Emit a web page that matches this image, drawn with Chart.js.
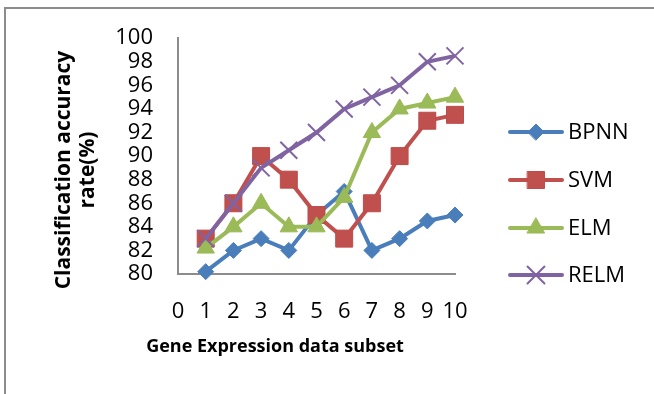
<!DOCTYPE html>
<html>
<head>
<meta charset="utf-8">
<script src="https://cdn.jsdelivr.net/npm/chart.js@4.4.0/dist/chart.umd.min.js"></script>
<style>
  html, body { margin: 0; padding: 0; background: #fff; }
  #wrap { width: 654px; height: 394px; }
</style>
</head>
<body>
<div id="wrap"><canvas id="acc_chart" width="654" height="394"></canvas></div>
<script>
// data subsets along the x-axis
var subsets = [1, 2, 3, 4, 5, 6, 7, 8, 9, 10];

// classification accuracy (%) per method
var bpnn = [80.2, 82, 83, 82, 85, 87, 82, 83, 84.5, 85];
var svm  = [83, 86, 90, 88, 85, 83, 86, 90, 93, 93.5];
var elm  = [82.2, 84, 86, 84, 84, 86.5, 92, 94, 94.5, 95];
var relm = [83, 86, 89, 90.5, 92, 94, 95, 96, 98, 98.5];

var xTitle = "Gene Expression data subset";
var yTitle = ["Classification accuracy", "rate(%)"];

function pts(vals) {
    return vals.map(function (v, i) { return { x: subsets[i], y: v }; });
}

var FONT = "'Open Sans', 'Noto Sans', sans-serif";

// frame, axis titles and a line+marker legend like the Excel one
var decor = {
    id: 'decor',
    beforeDraw: function (chart) {
        var c = chart.ctx;
        c.save();
        c.strokeStyle = '#8c8c8c';
        c.lineWidth = 2;
        c.beginPath();
        c.moveTo(5, 400);
        c.lineTo(5, 8);
        c.lineTo(660, 8);
        c.stroke();
        c.restore();
    },
    afterDraw: function (chart) {
        var c = chart.ctx;
        c.save();
        c.fillStyle = '#000';
        c.textAlign = 'center';
        c.textBaseline = 'middle';
        c.font = 'bold 18px ' + FONT;
        c.fillText(xTitle, 275, 347);
        c.save();
        c.font = 'bold 21px ' + FONT;
        c.translate(64, 170);
        c.rotate(-Math.PI / 2);
        yTitle.forEach(function (t, i) { c.fillText(t, 0, i * 24); });
        c.restore();

        var ys = [132, 180, 228, 275];
        chart.data.datasets.forEach(function (ds, i) {
            var y = ys[i];
            c.strokeStyle = ds.borderColor;
            c.lineWidth = 4;
            c.lineCap = 'round';
            c.beginPath();
            c.moveTo(510, y);
            c.lineTo(562, y);
            c.stroke();
            c.fillStyle = ds.pointBackgroundColor;
            c.strokeStyle = ds.pointBorderColor;
            c.lineWidth = ds.pointBorderWidth;
            Chart.helpers.drawPoint(c, {
                pointStyle: ds.pointStyle,
                radius: ds.pointRadius,
                borderWidth: ds.pointBorderWidth
            }, 536, y);
            c.fillStyle = '#000';
            c.font = '22px ' + FONT;
            c.textAlign = 'left';
            c.fillText(ds.label, 568, y + 1);
        });
        c.restore();
    }
};

var ctx = document.getElementById("acc_chart");
var myChart = new Chart(ctx, {
    type: 'line',
    data: {
        datasets: [
            {
                data: pts(bpnn),
                label: "BPNN",
                borderColor: "#4a7ebb",
                pointBackgroundColor: "#4a7ebb",
                pointBorderColor: "#4a7ebb",
                pointBorderWidth: 1,
                pointStyle: 'rectRot',
                pointRadius: 8,
                order: 4
            },
            {
                data: pts(svm),
                label: "SVM",
                borderColor: "#c0504d",
                pointBackgroundColor: "#c0504d",
                pointBorderColor: "#be4b48",
                pointBorderWidth: 1,
                pointStyle: 'rect',
                pointRadius: 12,
                order: 3
            },
            {
                data: pts(elm),
                label: "ELM",
                borderColor: "#9bbb59",
                pointBackgroundColor: "#9bbb59",
                pointBorderColor: "#98b954",
                pointBorderWidth: 1,
                pointStyle: 'triangle',
                pointRadius: 10,
                order: 2
            },
            {
                data: pts(relm),
                label: "RELM",
                borderColor: "#8064a2",
                pointBackgroundColor: "#8064a2",
                pointBorderColor: "#8064a2",
                pointBorderWidth: 2,
                pointStyle: 'crossRot',
                pointRadius: 12,
                order: 1
            }
        ]
    },
    options: {
        responsive: false,
        animation: false,
        clip: false,
        layout: { padding: { top: 38, right: 199, bottom: 0, left: 0 } },
        elements: {
            line: { borderWidth: 4, tension: 0, fill: false },
            point: { hoverRadius: 8 }
        },
        plugins: {
            legend: { display: false },
            tooltip: { enabled: false }
        },
        scales: {
            x: {
                type: 'linear',
                min: 0,
                max: 10,
                ticks: {
                    stepSize: 1,
                    autoSkip: false,
                    maxRotation: 0,
                    minRotation: 0,
                    padding: 25,
                    color: '#000',
                    font: { family: FONT, size: 22 }
                },
                grid: { display: false, drawTicks: false },
                border: { display: true, color: '#8c8c8c', width: 2 },
                afterFit: function (s) { s.height = 120; }
            },
            y: {
                min: 80,
                max: 100,
                ticks: {
                    stepSize: 2,
                    autoSkip: false,
                    padding: 25,
                    color: '#000',
                    font: { family: FONT, size: 22 }
                },
                grid: { display: false, drawTicks: false },
                border: { display: true, color: '#8c8c8c', width: 2 },
                afterFit: function (s) { s.width = 178; }
            }
        }
    },
    plugins: [decor]
});
</script>
</body>
</html>
